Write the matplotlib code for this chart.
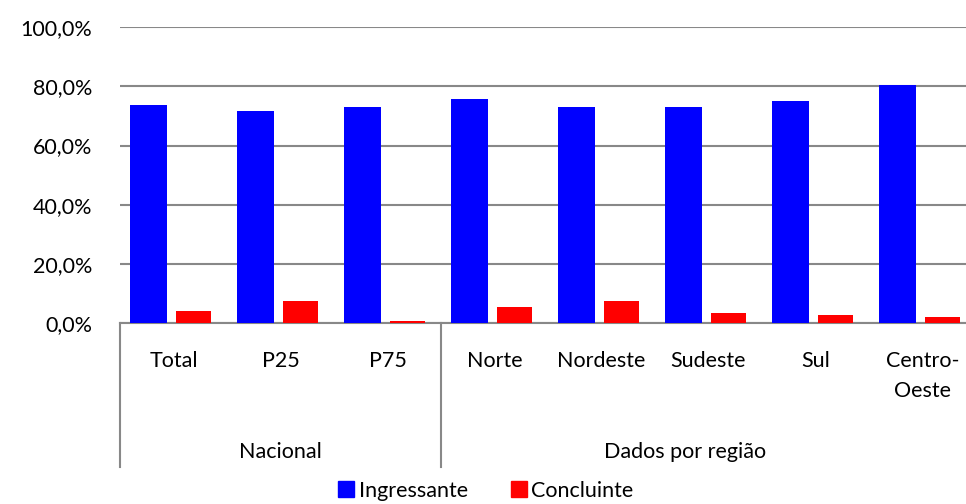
import matplotlib.pyplot as plt
import matplotlib.transforms as mtransforms
from matplotlib.lines import Line2D
from matplotlib.patches import Patch
import numpy as np

# dados do gráfico (%)
categorias = ['Total', 'P25', 'P75', 'Norte', 'Nordeste', 'Sudeste', 'Sul', 'Centro-\nOeste']
grupos = ['Nacional', 'Dados por região']
ingressante = [73.7, 71.6, 72.9, 75.6, 72.9, 72.9, 75.0, 80.4]
concluinte = [4.1, 7.5, 0.8, 5.5, 7.5, 3.5, 2.8, 2.1]
yticks = [0, 20, 40, 60, 80, 100]

plt.rcParams['font.family'] = ['Lato', 'DejaVu Sans']

fig = plt.figure(figsize=(9.66, 5.04), dpi=100)
# o gráfico original está cortado à direita
ax = fig.add_axes([120 / 966, 1 - 323.3 / 504, 856 / 966 * 9 / 8, 296.3 / 504])

x = np.arange(len(categorias))
ax.bar(x - 0.234, ingressante, width=0.345, color='#0000ff', zorder=3)
ax.bar(x + 0.187, concluinte, width=0.33, color='#ff0000', zorder=3)

ax.set_xlim(-0.5, 8.5)
ax.set_ylim(0, 100)
ax.set_yticks(yticks)
ax.set_yticklabels([f'{v:.1f}%'.replace('.', ',') for v in yticks], fontsize=15.5)
ax.tick_params(axis='y', length=0, pad=20)
ax.set_xticks([])
for s in ['top', 'right', 'left']:
    ax.spines[s].set_visible(False)
ax.spines['bottom'].set_color('#888888')
ax.spines['bottom'].set_linewidth(1.5)
ax.yaxis.grid(True, color='#888888', linewidth=1.5, zorder=0)

# eixo x em dois níveis
trans = mtransforms.blended_transform_factory(ax.transData, ax.transAxes)
for xi, lab in zip(x, categorias):
    ax.text(xi, -0.095, lab, transform=trans, ha='center', va='top',
            fontsize=15.5, linespacing=1.6)
ax.text(1, -0.435, grupos[0], transform=trans, ha='center', va='center', fontsize=15.5)
ax.text(4.78, -0.435, grupos[1], transform=trans, ha='center', va='center', fontsize=15.5)
for xs in [-0.5, 2.5]:
    ax.add_line(Line2D([xs, xs], [0, -0.485], transform=trans, color='#888888',
                       linewidth=1.5, clip_on=False))

handles = [Patch(color='#0000ff', label='Ingressante'),
           Patch(color='#ff0000', label='Concluinte')]
fig.legend(handles=handles, loc='lower center', bbox_to_anchor=(486 / 966, -0.032),
           ncol=2, frameon=False, fontsize=15.5, handlelength=0.75, handleheight=0.75,
           handletextpad=0.2, columnspacing=2.0)

fig.savefig('out.png', dpi=100)
